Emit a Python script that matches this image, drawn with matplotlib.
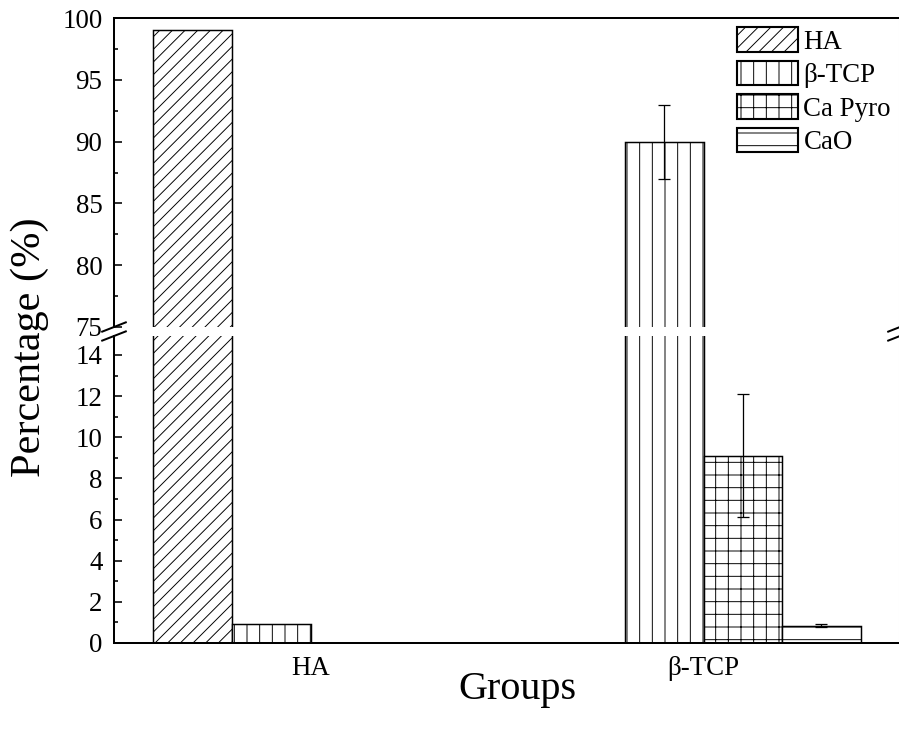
import numpy as np
import matplotlib
matplotlib.use("Agg")
import matplotlib.pyplot as plt
from matplotlib.ticker import MultipleLocator

plt.rcParams['font.family'] = ['Liberation Serif', 'DejaVu Serif']
plt.rcParams['hatch.linewidth'] = 0.9
plt.rcParams['hatch.color'] = 'black'

groups = ['HA', 'β-TCP']
series = ['HA', 'β-TCP', 'Ca Pyro', 'CaO']
values = {
    'HA':      [99.0, 0.0],
    'β-TCP':   [0.9, 90.0],
    'Ca Pyro': [0.0, 9.1],
    'CaO':     [0.0, 0.85],
}
errors = {
    'HA':      [0.0, 0.0],
    'β-TCP':   [0.0, 3.0],
    'Ca Pyro': [0.0, 3.0],
    'CaO':     [0.0, 0.05],
}
hatches = {'HA': '//', 'β-TCP': '|', 'Ca Pyro': '+', 'CaO': '-'}
lower_ticks = [0, 2, 4, 6, 8, 10, 12, 14]
upper_ticks = [75, 80, 85, 90, 95, 100]

DPI = 76
fig = plt.figure(figsize=(899 / DPI, 738 / DPI), dpi=DPI)

left = 114 / 899
width = 786 / 899
ax_lo = fig.add_axes([left, (738 - 643) / 738, width, 307 / 738])
ax_hi = fig.add_axes([left, (738 - 327) / 738, width, 309 / 738])

x = np.arange(1, len(groups) + 1)
bw = 0.2
offsets = [-0.3, -0.1, 0.1, 0.3]

TICK_FS = 25.5

handles = []
for ax in (ax_lo, ax_hi):
    for s, off in zip(series, offsets):
        b = ax.bar(x + off, values[s], width=bw, facecolor='white',
                   edgecolor='black', linewidth=1.4, hatch=hatches[s], label=s)
        if ax is ax_hi:
            handles.append(b)
        err = np.array(errors[s])
        m = err > 0
        if m.any():
            ax.errorbar((x + off)[m], np.array(values[s])[m], yerr=err[m],
                        fmt='none', ecolor='black', elinewidth=1.2,
                        capsize=6, capthick=1.2, zorder=5)

spine_lw = 1.9
for ax in (ax_lo, ax_hi):
    ax.set_xlim(0.5, 2.5)
    for sp in ax.spines.values():
        sp.set_linewidth(spine_lw)
    ax.tick_params(axis='both', which='major', direction='in', length=8,
                   width=1.5, labelsize=TICK_FS, pad=11)
    ax.tick_params(axis='both', which='minor', direction='in', length=4,
                   width=1.5)
    ax.tick_params(axis='y', which='both', right=False)

ax_lo.set_ylim(0, 14.92)
ax_lo.set_yticks(lower_ticks)
ax_lo.yaxis.set_minor_locator(MultipleLocator(1))
ax_lo.spines['top'].set_visible(False)
ax_lo.set_xticks(x)
ax_lo.set_xticklabels(groups)
ax_lo.tick_params(axis='x', pad=12, length=0)

ax_hi.set_ylim(75, 100)
ax_hi.set_yticks(upper_ticks)
ax_hi.yaxis.set_minor_locator(MultipleLocator(2.5))
ax_hi.spines['bottom'].set_visible(False)
ax_hi.set_xticks([])

# break marks
for ax, yb in ((ax_hi, 0.0), (ax_lo, 1.0)):
    for xa in (0.0, 1.0):
        ax.plot([xa - 0.015, xa + 0.015], [yb - 0.015, yb + 0.015],
                transform=ax.transAxes, color='black', lw=1.9, clip_on=False)

fig.text(30 / 899, 1 - 347 / 738, 'Percentage (%)', rotation=90,
         ha='center', va='center', fontsize=40)
fig.text(517 / 899, 1 - 690 / 738, 'Groups', ha='center', va='center',
         fontsize=38)

leg = ax_hi.legend(handles=handles, labels=series, loc='upper left',
                   bbox_to_anchor=(737 / 899, 1 - 27 / 738),
                   bbox_transform=fig.transFigure, frameon=False,
                   fontsize=TICK_FS, handlelength=2.27, handleheight=1.04,
                   labelspacing=0.22, handletextpad=0.2, borderpad=0,
                   borderaxespad=0)
for p in leg.get_patches():
    p.set_linewidth(2)

fig.savefig('out.png', dpi=DPI)
